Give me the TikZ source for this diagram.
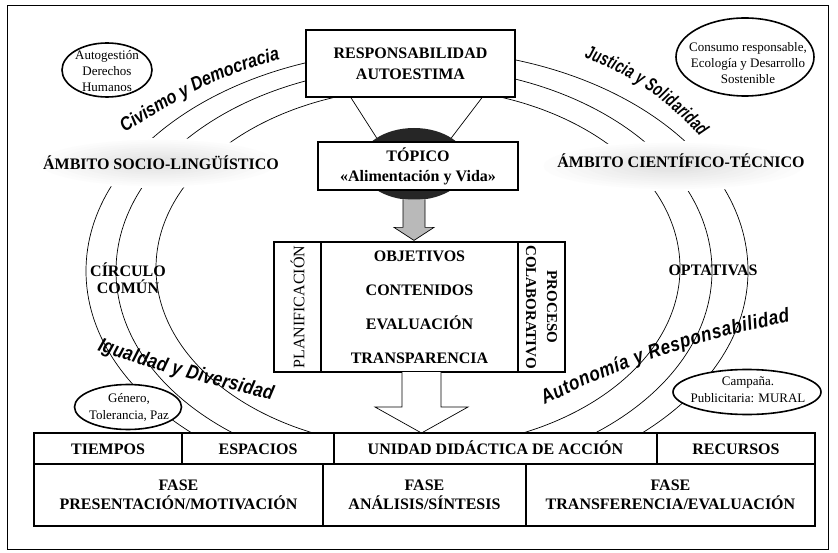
\documentclass[tikz,border=0pt]{standalone}
\usepackage{fontspec}
\setmainfont{Liberation Serif}
\newfontfamily\mottosans{Liberation Sans}[FakeStretch=0.85]
\newfontfamily\mottonarrow{Liberation Sans}[FakeStretch=0.7]
\usetikzlibrary{positioning,shapes.geometric,decorations.text}
\newcommand\mottofont{\mottosans\bfseries\itshape\fontsize{20}{20}\selectfont}
\newcommand\mottocivfont{\mottosans\bfseries\itshape\fontsize{19}{19}\selectfont}
\newcommand\mottojusfont{\mottonarrow\bfseries\itshape\fontsize{19}{19}\selectfont}
\tikzset{bigbox/.style={draw,line width=1.8pt,fill=white,outer sep=0pt,inner sep=0pt,
        align=center,font=\bfseries\fontsize{16}{20}\selectfont},
  cell/.style={bigbox,minimum height=31pt,text height=11pt,text depth=0pt},
  phase/.style={bigbox,minimum height=62pt,font=\bfseries\fontsize{16}{19}\selectfont},
  tag/.style={ellipse,draw,line width=1.6pt,fill=white,inner sep=0pt},
  tagtext/.style={align=center,inner sep=0pt,font=\fontsize{13}{16}\selectfont},
  ring/.style={line width=0.7pt},
  area/.style={align=center,inner sep=0pt,font=\bfseries\fontsize{16}{17}\selectfont},
  fatarrow/.style={line width=0.7pt,fill=#1},
  motto/.style={decorate,decoration={text along path,text align={fit to path},text={#1}}}}

\begin{document}
\begin{tikzpicture}[x=1pt,y=-1pt]
  \useasboundingbox (0,0) rectangle (838,553);
  \draw[line width=0.8pt] (7,5) rectangle (828,549);
  \draw[ring] (417,271) ellipse [x radius=331pt,y radius=221pt];
  \draw[ring] (414,271) ellipse [x radius=298pt,y radius=204pt];
  \draw[ring] (418,268) ellipse [x radius=262pt,y radius=180pt];
  \foreach \k in {0,...,10}{
    \fill[black!\k] (158,163) ellipse [x radius={128pt*(1-\k/13)},y radius={25pt*(1-\k/13)}];
    \fill[black!\k] (673,166) ellipse [x radius={140pt*(1-\k/13)},y radius={25pt*(1-\k/13)}];}
  \node[area] (socio) at (161,163) {ÁMBITO SOCIO-LINGÜÍSTICO};
  \node[area] (cientif) at (681,161) {ÁMBITO CIENTÍFICO-TÉCNICO};
  \node[area] (circulo) at (128,278) {CÍRCULO\\COMÚN};
  \node[area] (optat) at (713,270) {OPTATIVAS};
  \path[motto={|\mottocivfont|Civismo y Democracia}] (125,133) .. controls (175,100) and (225,72) .. (280,60);
  \path[motto={|\mottojusfont|Justicia y Solidaridad}] (584,58) .. controls (625,72) and (668,100) .. (700,137);
  \path[motto={|\mottofont|Igualdad y Diversidad}] (97,350) .. controls (140,366) and (210,385) .. (272,400);
  \path[motto={|\mottofont|Autonomía y Responsabilidad}] (545,405) .. controls (595,378) and (690,340) .. (790,322);
  \node[tag,minimum width=90pt,minimum height=54pt] (autog) at (107,70) {};
  \node[tagtext] (autogtext) at (107,71) {Autogestión\\Derechos\\Humanos};
  \node[tag,minimum width=138pt,minimum height=78pt] (consumo) at (745,57) {};
  \node[tagtext] (consumotext) at (748,63) {Consumo responsable,\\Ecología y Desarrollo\\Sostenible};
  \node[tag,minimum width=107pt,minimum height=45pt] (genero) at (128,407) {};
  \node[tagtext,font=\fontsize{13}{17}\selectfont] (generotext) at (129,407) {Género,\\Tolerancia, Paz};
  \node[tag,minimum width=148pt,minimum height=45pt] (campana) at (747,392) {};
  \node[tagtext,font=\fontsize{13}{17}\selectfont] (campanatext) at (748,390) {Campaña.\\Publicitaria: MURAL};
  \node[bigbox,minimum width=209pt,minimum height=67pt,font=\bfseries\fontsize{16}{21}\selectfont] (resp) at (410.5,63.5) {RESPONSABILIDAD\\AUTOESTIMA};
  \node[ellipse,fill=black!85,minimum width=108pt,minimum height=72pt,inner sep=0pt] (blob) at (414,164) {};
  \draw[ring] ([xshift=-60pt]resp.south) -- (blob.145);
  \draw[ring] ([xshift=72pt]resp.south) -- (blob.35);
  \node[bigbox,minimum width=200pt,minimum height=48pt] (topic) at (418,166) {TÓPICO\\«Alimentación y Vida»};
  \draw[fatarrow=gray!55] (blob.south) ++(-11,-0.8) -- ++(0,28) -- ++(-9,0) -- ++(20,13) -- ++(20,-13) -- ++(-9,0) -- ++(0,-28);
  \node[bigbox,minimum width=197pt,minimum height=130pt,font=\bfseries\fontsize{16}{34}\selectfont] (core) at (419.5,307) {OBJETIVOS\\CONTENIDOS\\EVALUACIÓN\\TRANSPARENCIA};
  \node[bigbox,rotate=90,minimum width=130pt,minimum height=47pt,font=\fontsize{16}{16}\selectfont] (plan) at (297.5,307) {PLANIFICACIÓN};
  \node[bigbox,rotate=-90,minimum width=130pt,minimum height=47pt,font=\bfseries\fontsize{15}{21}\selectfont] (proc) at (541.5,307) {PROCESO\\COLABORATIVO};
  \draw[fatarrow=white] ([xshift=2pt]core.south) ++(-19.5,0) -- ++(0,35) -- ++(-27,0) -- ++(46.5,26) -- ++(46.5,-26) -- ++(-27,0) -- ++(0,-35);
  \node[cell,minimum width=148pt] (tiempos) at (108,448.5) {TIEMPOS};
  \node[cell,minimum width=152pt,right=0pt of tiempos] (espacios) {ESPACIOS};
  \node[cell,minimum width=323pt,right=0pt of espacios] (unidad) {UNIDAD DIDÁCTICA DE ACCIÓN};
  \node[cell,minimum width=158pt,right=0pt of unidad] (recursos) {RECURSOS};
  \node[phase,minimum width=289pt,anchor=north west] (fase1) at (tiempos.south west) {FASE\\PRESENTACIÓN/MOTIVACIÓN};
  \node[phase,minimum width=203pt,right=0pt of fase1] (fase2) {FASE\\ANÁLISIS/SÍNTESIS};
  \node[phase,minimum width=289pt,right=0pt of fase2] (fase3) {FASE\\TRANSFERENCIA/EVALUACIÓN};
\end{tikzpicture}
\end{document}
